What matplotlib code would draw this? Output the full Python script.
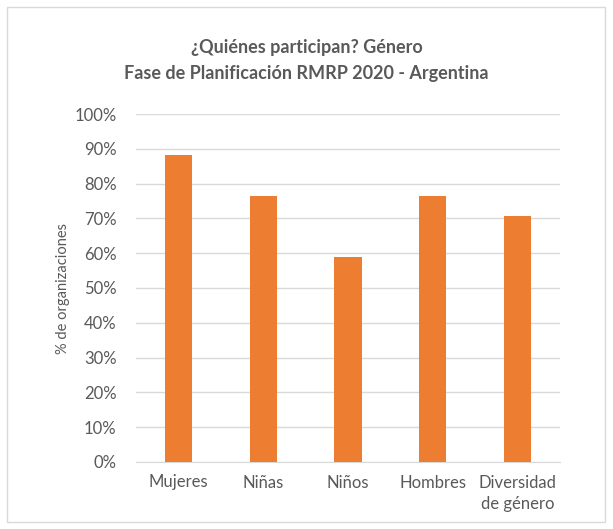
import matplotlib as mpl
mpl.use('Agg')
import matplotlib.pyplot as plt
from matplotlib.patches import Rectangle

categorias = ['Mujeres', 'Niñas', 'Niños', 'Hombres', 'Diversidad\nde género']
porcentajes = [88.2, 76.5, 58.8, 76.5, 70.6]
ticks = list(range(0, 101, 10))

plt.rcParams['font.family'] = ['Lato', 'DejaVu Sans']
gris = '#595959'

fig = plt.figure(figsize=(6.13, 5.29), dpi=100)
W, H = 613, 529
ax = fig.add_axes([136 / W, 1 - 462 / H, (560 - 136) / W, (462 - 114) / H])

x = range(len(categorias))
ax.bar(x, porcentajes, width=0.32, color='#ED7D31', zorder=3)
ax.set_xlim(-0.5, len(categorias) - 0.5)
ax.set_ylim(0, 100)
ax.set_yticks(ticks)
ax.set_yticklabels([str(t) + '%' for t in ticks])
ax.set_xticks(list(x))
ax.set_xticklabels(categorias, linespacing=1.45)
ax.grid(axis='y', color='#D9D9D9', linewidth=1, zorder=0)
for s in ['top', 'right', 'left']:
    ax.spines[s].set_visible(False)
ax.spines['bottom'].set_color('#D9D9D9')
ax.tick_params(axis='both', length=0, labelsize=12, colors=gris)
ax.tick_params(axis='y', pad=14)
ax.tick_params(axis='x', pad=9)
ax.set_ylabel('% de organizaciones', fontsize=10.5, color=gris, labelpad=3)

fig.text(0.5, 1 - 47 / H, '¿Quiénes participan? Género', ha='center', va='center',
         fontsize=13, fontweight='bold', color=gris)
fig.text(0.5, 1 - 74 / H, 'Fase de Planificación RMRP 2020 - Argentina', ha='center',
         va='center', fontsize=13, fontweight='bold', color=gris)

fig.patches.append(Rectangle((7 / W, 7 / H), (605 - 7) / W, (522 - 7) / H,
                             transform=fig.transFigure, fill=False,
                             edgecolor='#D9D9D9', linewidth=1))

fig.savefig('out.png', dpi=100)
